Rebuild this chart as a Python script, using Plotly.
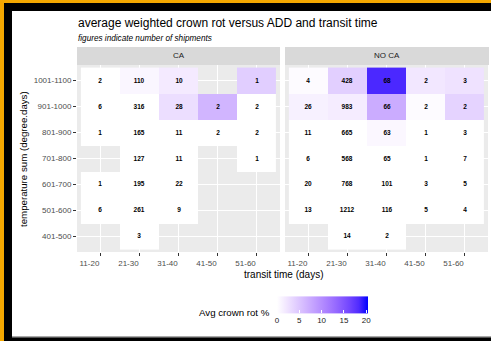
import plotly.graph_objects as go
import numpy as np

transit = ["11-20", "21-30", "31-40", "41-50", "51-60"]
temp = ["401-500", "501-600", "601-700", "701-800", "801-900", "901-1000", "1001-1100"]
N = None

ca_counts = [
    [N, 3, N, N, N],
    [6, 261, 9, N, N],
    [1, 195, 22, N, N],
    [N, 127, 11, N, 1],
    [1, 165, 11, 2, 2],
    [6, 316, 28, 2, 2],
    [2, 110, 10, N, 1],
]
ca_rot = [
    [N, 0, N, N, N],
    [0, 0, 0, N, N],
    [0, 0, 0, N, N],
    [N, 0, 0, N, 0],
    [0, 0, 0, 0, 0],
    [0, 0, 2.8, 6.5, 0],
    [0, 0.8, 1.8, N, 4.3],
]
noca_counts = [
    [N, 14, 2, N, N],
    [13, 1212, 116, 5, 4],
    [20, 768, 101, 3, 5],
    [6, 568, 65, 1, 7],
    [11, 665, 63, 1, 3],
    [26, 983, 66, 2, 2],
    [4, 428, 68, 2, 3],
]
noca_rot = [
    [N, 0, 0, N, N],
    [0, 0, 0, 0, 0],
    [0, 0, 0, 0, 0],
    [0, 0, 0, 0, 0],
    [0, 0, 0.7, 0, 0],
    [1.2, 1.6, 7.3, 0.3, 3.8],
    [0.3, 4.2, 18.5, 2.0, 2.5],
]
panels = ["CA", "NO CA"]
cbar_ticks = [0, 5, 10, 15, 20]

W, H = 491, 341


def px(x):
    return x / W


def py(y):
    return 1 - y / H


# white -> blue gradient interpolated in Lab space (like ggplot's scale_fill_gradient)
def lab_to_hex(L, a, b):
    fy = (L + 16) / 116
    fx = fy + a / 500
    fz = fy - b / 200

    def finv(t):
        return t ** 3 if t ** 3 > 0.008856 else (t - 16 / 116) / 7.787

    X, Y, Z = 0.95047 * finv(fx), finv(fy), 1.08883 * finv(fz)
    r = 3.2406 * X - 1.5372 * Y - 0.4986 * Z
    g = -0.9689 * X + 1.8758 * Y + 0.0415 * Z
    bb = 0.0557 * X - 0.2040 * Y + 1.0570 * Z

    def gam(c):
        c = min(max(c, 0), 1)
        return 12.92 * c if c <= 0.0031308 else 1.055 * c ** (1 / 2.4) - 0.055

    return "#%02x%02x%02x" % tuple(int(round(gam(c) * 255)) for c in (r, g, bb))


lab_w = (100.0, 0.0, 0.0)
lab_b = (32.30, 79.19, -107.86)
cscale = []
for t in np.linspace(0, 1, 11):
    L = lab_w[0] + (lab_b[0] - lab_w[0]) * t
    a = lab_w[1] + (lab_b[1] - lab_w[1]) * t
    b = lab_w[2] + (lab_b[2] - lab_w[2]) * t
    cscale.append([float(t), lab_to_hex(L, a, b)])


def to_z(arr):
    return [[np.nan if v is None else v for v in row] for row in arr]


def to_text(arr):
    return [["" if v is None else str(v) for v in row] for row in arr]


cell_font = dict(size=6.5, color="black", family="Liberation Sans", weight="bold")
fig = go.Figure()
fig.add_trace(go.Heatmap(x=transit, y=temp, z=to_z(ca_rot), text=to_text(ca_counts),
                         texttemplate="%{text}", coloraxis="coloraxis", textfont=cell_font,
                         hoverinfo="skip", xaxis="x", yaxis="y"))
fig.add_trace(go.Heatmap(x=transit, y=temp, z=to_z(noca_rot), text=to_text(noca_counts),
                         texttemplate="%{text}", coloraxis="coloraxis", textfont=cell_font,
                         hoverinfo="skip", xaxis="x2", yaxis="y2"))

tickfont = dict(family="Liberation Sans", size=8, color="#4D4D4D")
xcommon = dict(type="category", categoryorder="array", categoryarray=transit,
               range=[-0.6, 4.6], showgrid=True, gridcolor="white", gridwidth=1.1,
               ticks="outside", ticklen=3, tickcolor="#333333", tickwidth=1,
               tickfont=tickfont, zeroline=False, showline=False, ticklabelshift=-11)
ycommon = dict(type="category", categoryorder="array", categoryarray=temp,
               range=[-0.6, 6.6], showgrid=True, gridcolor="white", gridwidth=1.1,
               tickfont=tickfont, zeroline=False, showline=False,
               domain=[py(252), py(65)])

fig.update_layout(
    width=W, height=H,
    margin=dict(l=0, r=0, t=0, b=0, autoexpand=False),
    paper_bgcolor="white", plot_bgcolor="#EBEBEB",
    showlegend=False,
    xaxis=dict(xcommon, domain=[px(77), px(280)], anchor="y"),
    xaxis2=dict(xcommon, domain=[px(285), px(488)], anchor="y2"),
    yaxis=dict(ycommon, anchor="x", ticks="outside", ticklen=3, tickcolor="#333333", tickwidth=1),
    yaxis2=dict(ycommon, anchor="x2", showticklabels=False, ticks=""),
    coloraxis=dict(
        colorscale=cscale, cmin=0, cmax=20.4,
        colorbar=dict(orientation="h", x=px(277), xanchor="left", y=py(329), yanchor="bottom",
                      len=91 / W, lenmode="fraction", thickness=17, xpad=0, ypad=0,
                      outlinewidth=0, tickvals=cbar_ticks, ticks="inside", ticklen=3,
                      tickcolor="white", tickwidth=1,
                      tickfont=dict(family="Liberation Sans", size=8, color="#1A1A1A")),
    ),
)

shapes = []
# facet strips
for x0, x1 in [(77, 280), (285, 489)]:
    shapes.append(dict(type="rect", xref="paper", yref="paper", x0=px(x0), x1=px(x1),
                       y0=py(65), y1=py(47), fillcolor="#D9D9D9", line=dict(width=0), layer="below"))
# frame of the screenshot
frame = [
    ("#F5A800", 0, 491, 0, 3),
    ("#F5A800", 0, 4, 0, 341),
    ("#000000", 4, 491, 3, 11),
    ("#000000", 4, 12, 3, 341),
    ("#555555", 12, 491, 336.5, 337.5),
    ("#000000", 4, 491, 337.5, 341),
]
for col, x0, x1, y0, y1 in frame:
    shapes.append(dict(type="rect", xref="paper", yref="paper", x0=px(x0), x1=px(x1),
                       y0=py(y1), y1=py(y0), fillcolor=col, line=dict(width=0), layer="above"))
fig.update_layout(shapes=shapes)


def note(text, x, y, size, xanchor="center", color="#000000", **kw):
    return dict(text=text, x=px(x), y=py(y), xref="paper", yref="paper", xanchor=xanchor,
                yanchor="middle", showarrow=False,
                font=dict(family="Liberation Sans", size=size, color=color), **kw)


ann = [
    note("average weighted crown rot versus ADD and transit time", 76, 23, 12, "left"),
    note("<i>figures indicate number of shipments</i>", 76, 38.5, 8.2, "left"),
    note(panels[0], (77 + 280) / 2, 56, 8, color="#1A1A1A"),
    note(panels[1], (285 + 489) / 2, 56, 8, color="#1A1A1A"),
    note("transit time (days)", 283, 274, 10),
    note("temperature sum (degree.days)", 23, 159, 9.7, textangle=-90),
    note("Avg crown rot %", 272, 312, 9.7, "right"),
]
fig.update_layout(annotations=ann)

fig.write_html("out.html", config={"displayModeBar": False},
               post_script="document.body.style.margin='0';")
